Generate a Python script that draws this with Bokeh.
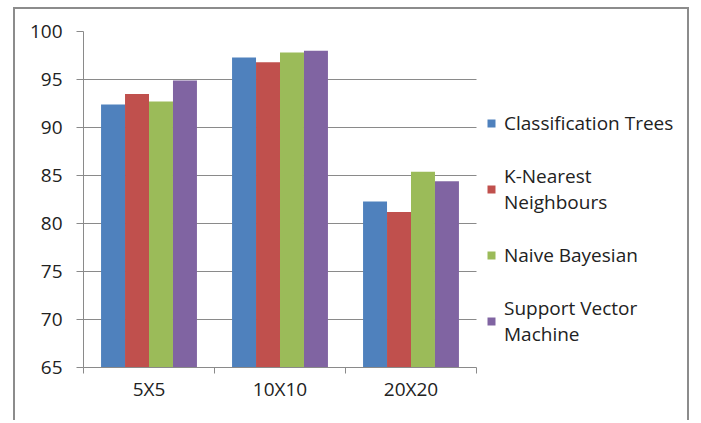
from bokeh.plotting import figure
from bokeh.models import (Range1d, FixedTicker, Legend, LegendItem, ColumnDataSource, BoxAnnotation)
from bokeh.transform import dodge
from bokeh.embed import file_html
from bokeh.resources import INLINE

categories = ["5X5", "10X10", "20X20"]
series_names = ["Classification Trees", "K-Nearest\nNeighbours", "Naive Bayesian", "Support Vector\nMachine"]
classification_trees = [92.4, 97.3, 82.3]
k_nearest = [93.5, 96.8, 81.2]
naive_bayes = [92.7, 97.8, 85.4]
svm = [94.9, 98.0, 84.4]
colors = ["#4F81BD", "#C0504D", "#9BBB59", "#8064A2"]
y_ticks = [65, 70, 75, 80, 85, 90, 95, 100]

FONT = "Open Sans"
GRID = "#8a8a8a"
TXT = "#222222"

ncat = len(categories)
centers = [i + 0.5 for i in range(ncat)]

# layout (pixels inside the bordered box)
W, H = 676, 413
LEFT, TOP, BOTTOM = 68, 22, 55
PLOT_W = 393                      # width of the bar area
FRAME_W = W - LEFT                # frame reaches the right border; legend sits inside it
x_end = ncat * FRAME_W / PLOT_W

p = figure(width=W, height=H, x_range=Range1d(0, x_end), y_range=Range1d(65, 100),
           output_backend="svg", toolbar_location=None,
           min_border_left=LEFT, min_border_right=0, min_border_top=TOP, min_border_bottom=BOTTOM)
p.styles = {"margin-left": "13px", "margin-top": "7px",
            "border-left": "2px solid #8c8c8c", "border-top": "2px solid #8c8c8c",
            "border-right": "2px solid #8c8c8c"}
p.outline_line_color = None
p.background_fill_color = "white"
p.border_fill_color = "white"

src = ColumnDataSource(dict(pos=centers, cat=categories, a=classification_trees, b=k_nearest,
                            c=naive_bayes, d=svm))
bw = 0.183
offsets = [-1.5 * bw, -0.5 * bw, 0.5 * bw, 1.5 * bw]
renderers = []
for col, off, color in zip(["a", "b", "c", "d"], offsets, colors):
    r = p.vbar(x=dodge("pos", off), top=col, bottom=65, width=bw,
               source=src, fill_color=color, line_color=None)
    renderers.append(r)

# y axis
p.yaxis.ticker = FixedTicker(ticks=y_ticks)
p.yaxis.axis_line_color = GRID
p.yaxis.major_tick_line_color = GRID
p.yaxis.major_tick_out = 7
p.yaxis.major_tick_in = 0
p.yaxis.minor_tick_line_color = None
p.yaxis.major_label_text_font = FONT
p.yaxis.major_label_text_font_size = "19px"
p.yaxis.major_label_text_color = TXT
p.yaxis.major_label_standoff = 14

p.ygrid.ticker = FixedTicker(ticks=y_ticks)
p.ygrid.grid_line_color = GRID
p.xgrid.grid_line_color = None

# white panel hiding the gridlines in the legend area (right of the bar area)
p.add_layout(BoxAnnotation(left=ncat, fill_color="white", fill_alpha=1.0,
                           line_color=None, level="underlay"))

# x axis: labels at category centres, tick marks at category boundaries
xax = p.xaxis[0]
xax.ticker = FixedTicker(ticks=centers, minor_ticks=list(range(ncat + 1)))
xax.major_label_overrides = {c: lab for c, lab in zip(centers, categories)}
xax.bounds = (0, ncat)
xax.axis_line_color = GRID
xax.major_tick_line_color = None
xax.minor_tick_line_color = GRID
xax.minor_tick_out = 6
xax.minor_tick_in = 0
xax.major_label_text_font = FONT
xax.major_label_text_font_size = "19px"
xax.major_label_text_color = TXT
xax.major_label_standoff = 2

legend = Legend(items=[LegendItem(label=n, renderers=[r]) for n, r in zip(series_names, renderers)],
                location=(403, 20))
legend.border_line_color = None
legend.background_fill_alpha = 0
legend.padding = 0
legend.margin = 0
legend.glyph_width = 10
legend.glyph_height = 10
legend.label_standoff = 8
legend.spacing = 27
legend.label_text_font = FONT
legend.label_text_font_size = "19px"
legend.label_text_color = TXT
legend.label_text_line_height = 1.53
p.add_layout(legend, "center")

open("out.html", "w").write(file_html(p, INLINE))
